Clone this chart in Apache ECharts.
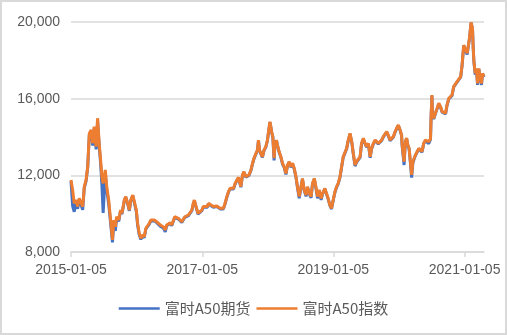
<!DOCTYPE html>
<html>
<head>
<meta charset="utf-8">
<script src="https://cdn.jsdelivr.net/npm/echarts@6/dist/echarts.min.js"></script>
<style>
html,body{margin:0;padding:0;background:#fff;}
#wrap{position:relative;width:507px;height:335px;}
#chart{position:absolute;left:0;top:0;width:507px;height:335px;}
#frame{position:absolute;left:0;top:0;width:507px;height:335px;box-sizing:border-box;border:2px solid #d9d9d9;pointer-events:none;}
</style>
</head>
<body>
<div id="wrap"><div id="chart"></div><div id="frame"></div></div>
<script>
const seriesNames = ['富时A50期货', '富时A50指数'];
const xTickLabels = ['2015-01-05', '2017-01-05', '2019-01-05', '2021-01-05'];
const yTicks = [8000, 12000, 16000, 20000];

const dates = [
'2015-01-05','2015-01-14','2015-01-23','2015-02-02','2015-02-11','2015-02-20','2015-03-02','2015-03-11','2015-03-16','2015-03-20',
'2015-03-30','2015-04-08','2015-04-17','2015-04-27','2015-05-06','2015-05-14','2015-05-25','2015-06-02','2015-06-11','2015-06-19',
'2015-06-26','2015-07-03','2015-07-15','2015-07-23','2015-08-03','2015-08-10','2015-08-24','2015-08-31','2015-09-09','2015-09-16',
'2015-09-28','2015-10-08','2015-10-16','2015-10-29','2015-11-06','2015-11-17','2015-11-26','2015-12-04','2015-12-15','2015-12-24',
'2016-01-04','2016-01-11','2016-01-20','2016-01-29','2016-02-05','2016-02-17','2016-02-26','2016-03-07','2016-03-16','2016-03-25',
'2016-04-04','2016-04-13','2016-04-26','2016-05-16','2016-06-02','2016-06-13','2016-06-21','2016-06-30','2016-07-11','2016-07-19',
'2016-07-28','2016-08-05','2016-08-16','2016-08-25','2016-09-02','2016-09-13','2016-09-22','2016-09-30','2016-10-11','2016-10-20',
'2016-10-28','2016-11-08','2016-11-16','2016-11-22','2016-12-02','2016-12-12','2016-12-20','2017-01-03','2017-01-11','2017-01-20',
'2017-02-03','2017-02-08','2017-02-17','2017-03-08','2017-03-27','2017-04-14','2017-04-24','2017-05-03','2017-05-12','2017-05-22',
'2017-05-31','2017-06-09','2017-06-19','2017-06-28','2017-07-07','2017-07-17','2017-07-26','2017-08-08','2017-08-17','2017-08-25',
'2017-09-05','2017-09-14','2017-09-22','2017-10-03','2017-10-12','2017-10-20','2017-10-31','2017-11-08','2017-11-14','2017-11-20',
'2017-11-27','2017-12-06','2017-12-15','2017-12-25','2018-01-03','2018-01-09','2018-01-17','2018-01-22','2018-01-26','2018-02-02',
'2018-02-09','2018-02-13','2018-02-22','2018-02-28','2018-03-09','2018-03-19','2018-03-28','2018-04-06','2018-04-16','2018-04-25',
'2018-05-04','2018-05-14','2018-05-23','2018-06-01','2018-06-11','2018-06-19','2018-06-29','2018-07-09','2018-07-17','2018-07-27',
'2018-08-06','2018-08-14','2018-08-24','2018-09-03','2018-09-11','2018-09-21','2018-09-28','2018-10-09','2018-10-18','2018-10-29',
'2018-11-06','2018-11-19','2018-11-28','2018-12-07','2018-12-17','2018-12-26','2019-01-04','2019-01-14','2019-01-23','2019-02-01',
'2019-02-11','2019-02-20','2019-03-01','2019-03-11','2019-03-20','2019-03-29','2019-04-08','2019-04-12','2019-04-19','2019-04-26',
'2019-05-06','2019-05-14','2019-05-24','2019-06-03','2019-06-11','2019-06-21','2019-07-01','2019-07-09','2019-07-19','2019-07-29',
'2019-08-06','2019-08-16','2019-08-26','2019-09-03','2019-09-12','2019-09-23','2019-10-01','2019-10-10','2019-10-20','2019-10-29',
'2019-11-07','2019-11-17','2019-11-26','2019-12-05','2019-12-15','2019-12-23','2020-01-02','2020-01-12','2020-01-20','2020-01-23',
'2020-02-03','2020-02-10','2020-02-17','2020-02-24','2020-03-02','2020-03-09','2020-03-16','2020-03-23','2020-03-30','2020-04-06',
'2020-04-16','2020-04-25','2020-05-04','2020-05-13','2020-05-22','2020-06-01','2020-06-10','2020-06-19','2020-06-29','2020-07-03',
'2020-07-07','2020-07-10','2020-07-17','2020-07-29','2020-08-05','2020-08-14','2020-08-24','2020-09-02','2020-09-11','2020-09-21',
'2020-09-29','2020-10-09','2020-10-19','2020-10-27','2020-11-05','2020-11-16','2020-11-24','2020-12-03','2020-12-14','2020-12-22',
'2020-12-31','2021-01-11','2021-01-19','2021-01-25','2021-02-01','2021-02-10','2021-02-18','2021-02-22','2021-02-26','2021-03-05',
'2021-03-12','2021-03-18','2021-03-25','2021-04-01','2021-04-09','2021-04-15','2021-04-23'
];

const a50Index = [
11760,11240,10540,10710,10370,10800,10710,10370,10890,11410,
11760,12450,14190,14370,13670,14540,13500,14980,13670,12800,
11930,11580,12280,11410,10710,10020,8630,9670,9320,9840,
9670,10190,10020,10710,10890,10540,10190,10710,10970,10890,
10190,9500,8970,8710,8890,8800,9240,9320,9500,9670,
9580,9670,9580,9410,9320,9150,9410,9500,9530,9410,
9500,9840,9930,9760,9670,9580,9670,9840,9930,9930,
10020,10190,10540,10710,10370,10020,9930,10190,10370,10450,
10370,10540,10450,10370,10400,10280,10190,10280,10540,10890,
11150,11320,11410,11320,11580,11760,11900,11410,12020,12190,
11930,11840,12020,12280,12630,12890,13150,13320,13840,13320,
13150,12970,13320,13500,13840,14280,14800,14540,14280,14020,
12890,13500,13840,13580,13240,12970,12630,12450,12100,12540,
12710,12450,12630,12370,11930,11410,10890,11410,11840,11240,
10970,11410,11060,10890,11580,11840,11500,10890,11240,10800,
11060,11320,11060,10800,10450,10280,10710,11150,11410,11580,
11930,12450,12970,13060,13410,13840,14190,14190,13670,13150,
12540,12710,12630,12970,13670,13930,13670,13500,13670,12970,
13410,13670,13840,13930,13670,13580,13840,14020,14020,14280,
14100,13840,13760,14020,14280,14450,14630,14370,14100,13600,
12710,13760,13950,13580,13410,12710,12020,12710,12890,13060,
13240,13410,13500,13240,13670,13840,13760,13760,13900,15220,
16190,15220,14970,15320,15500,15760,15580,15320,15220,15240,
15670,16020,15930,16190,16630,16710,16890,16970,17150,17760,
18800,18890,18370,18710,19150,19980,19670,18630,17930,17320,
17580,16800,17580,17150,16800,17320,17150
];

const a50Futures = [
11700,10400,10100,10650,10250,10750,10650,10200,10850,11350,
11700,12400,14100,14300,13550,14450,13350,14850,13550,12600,
11500,10040,12100,11250,10500,9850,8500,9500,9100,9750,
9600,10150,9980,10680,10860,10500,10150,10680,10940,10850,
10100,9400,8900,8650,8840,8750,9200,9280,9450,9620,
9530,9630,9530,9350,9250,9050,9370,9460,9500,9370,
9460,9810,9900,9720,9640,9540,9640,9810,9900,9900,
9990,10160,10500,10680,10330,9980,9890,10160,10340,10420,
10340,10510,10420,10340,10370,10250,10160,10250,10510,10860,
11120,11290,11380,11290,11550,11730,11870,11380,11990,12160,
11900,11810,11990,12250,12600,12860,13120,13290,13810,13290,
13120,12940,13290,13470,13810,14250,14770,14510,14250,13990,
12780,13470,13810,13550,13200,12940,12580,12420,12050,12510,
12680,12420,12600,12330,11890,11370,10800,11380,11810,11200,
10900,11380,11020,10830,11550,11810,11460,10800,11200,10720,
11030,11290,11030,10770,10420,10240,10680,11120,11380,11550,
11900,12420,12940,13030,13380,13810,14160,14160,13640,13110,
12480,12680,12600,12940,13640,13900,13640,13470,13640,12920,
13380,13640,13810,13900,13640,13550,13810,13990,13990,14250,
14070,13810,13730,13990,14250,14420,14600,14340,14070,13550,
12540,13730,13920,13550,13380,12660,11880,12660,12850,13030,
13210,13380,13470,13210,13640,13810,13730,13650,13870,15190,
16160,15190,14940,15290,15470,15730,15550,15290,15190,15200,
15640,15990,15900,16160,16600,16680,16860,16940,17120,17730,
18770,18860,18300,18680,19120,19950,19640,18600,17900,17250,
17550,16720,17550,17100,16720,17290,17120
];

const ts = s => Date.UTC(+s.slice(0, 4), +s.slice(5, 7) - 1, +s.slice(8, 10));
const toPairs = vals => dates.map((d, i) => [ts(d), vals[i]]);
const pad = n => (n < 10 ? '0' : '') + n;
const fmtDate = v => { const d = new Date(v); return d.getUTCFullYear() + '-' + pad(d.getUTCMonth() + 1) + '-' + pad(d.getUTCDate()); };

const chart = echarts.init(document.getElementById('chart'), null, {renderer: 'canvas'});
const axisFont = {color: '#595959', fontSize: 14, fontFamily: 'Liberation Sans, Arial, sans-serif'};
const tickVals = xTickLabels.map(ts);

chart.setOption({
  animation: false,
  backgroundColor: '#ffffff',
  color: ['#4472C4', '#ED7D31'],
  grid: {left: 71, right: 23, top: 22, bottom: 83, containLabel: false},
  legend: {
    data: seriesNames,
    left: 'center',
    top: 296,
    icon: 'rect',
    itemWidth: 41,
    itemHeight: 2.5,
    itemGap: 6,
    textStyle: {color: '#595959', fontSize: 15, fontFamily: 'Noto Sans CJK SC, sans-serif'}
  },
  xAxis: {
    type: 'value',
    min: ts('2015-01-05'),
    max: ts('2021-04-23'),
    axisLine: {show: true, lineStyle: {color: '#d9d9d9', width: 1.5}},
    axisTick: {show: true, length: 5, lineStyle: {color: '#d9d9d9', width: 1.5}, customValues: tickVals},
    axisLabel: {show: true, margin: 11, customValues: tickVals, formatter: v => fmtDate(v), ...axisFont},
    splitLine: {show: false}
  },
  yAxis: {
    type: 'value',
    min: yTicks[0],
    max: yTicks[yTicks.length - 1],
    interval: 4000,
    axisLine: {show: false},
    axisTick: {show: false},
    axisLabel: {margin: 11, formatter: v => v.toLocaleString('en-US'), ...axisFont},
    splitLine: {show: true, lineStyle: {color: '#d9d9d9', width: 1.5}}
  },
  series: [
    {name: seriesNames[0], type: 'line', data: toPairs(a50Futures), showSymbol: false, symbol: 'none',
     lineStyle: {width: 3, color: '#4472C4'}, itemStyle: {color: '#4472C4'}},
    {name: seriesNames[1], type: 'line', data: toPairs(a50Index), showSymbol: false, symbol: 'none',
     lineStyle: {width: 3, color: '#ED7D31'}, itemStyle: {color: '#ED7D31'}}
  ]
});
</script>
</body>
</html>
